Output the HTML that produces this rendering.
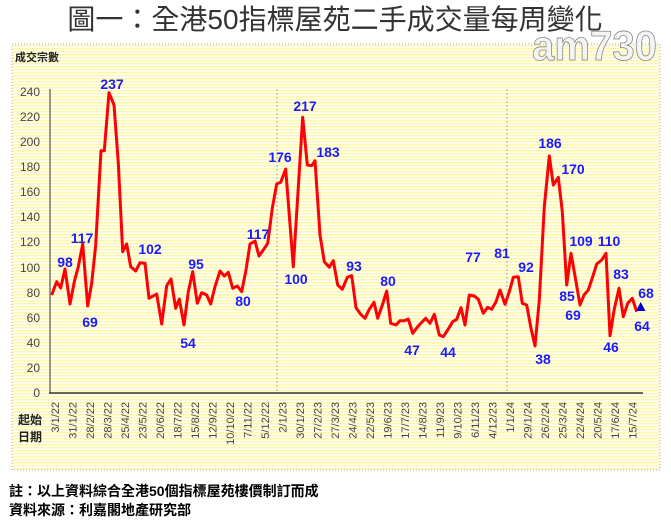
<!DOCTYPE html>
<html><head><meta charset="utf-8"><style>
body{margin:0;width:671px;height:520px;background:#fff;overflow:hidden;font-family:"Liberation Sans","Noto Sans CJK TC",sans-serif}
</style></head><body>
<svg width="671" height="520" xmlns="http://www.w3.org/2000/svg" style="position:absolute;left:0;top:0">
<defs>
<pattern id="st" width="4" height="3" patternUnits="userSpaceOnUse"><rect width="4" height="3" fill="#ffffff"/><rect width="4" height="1.5" fill="#fdf7a8"/></pattern>
</defs>
<text x="335" y="29" text-anchor="middle" font-size="28" fill="#333" font-family="'Liberation Sans','Noto Sans CJK TC',sans-serif">圖一：全港50指標屋苑二手成交量每周變化</text>
<rect x="12" y="44" width="648" height="426" fill="url(#st)" stroke="#aaa" stroke-dasharray="1,2"/>
<text x="532" y="60" font-size="42" font-weight="bold" fill="#f4f4f4" stroke="#888" stroke-width="0.8" textLength="125" lengthAdjust="spacingAndGlyphs">am730</text>
<text x="15" y="61" font-size="11" font-weight="bold" fill="#222" font-family="'Liberation Sans','Noto Sans CJK TC',sans-serif">成交宗數</text>
<line x1="277" y1="89" x2="277" y2="392" stroke="#aaa" stroke-dasharray="2,2"/>
<line x1="507" y1="89" x2="507" y2="392" stroke="#aaa" stroke-dasharray="2,2"/>
<line x1="50" y1="89" x2="50" y2="393" stroke="#555" stroke-width="1.2"/>
<line x1="49" y1="393" x2="643" y2="393" stroke="#333" stroke-width="1.5"/>
<g font-size="12" fill="#444" text-anchor="end">
<text x="40" y="96">240</text><text x="40" y="121">220</text><text x="40" y="146">200</text><text x="40" y="171">180</text><text x="40" y="196">160</text><text x="40" y="221">140</text><text x="40" y="246">120</text><text x="40" y="272">100</text><text x="40" y="297">80</text><text x="40" y="322">60</text><text x="40" y="347">40</text><text x="40" y="372">20</text><text x="40" y="397">0</text>
</g>
<g font-size="11" fill="#444" text-anchor="end">
<text transform="translate(59,402) rotate(-90)">3/1/22</text>
<text transform="translate(76.5,402) rotate(-90)">31/1/22</text>
<text transform="translate(94,402) rotate(-90)">28/2/22</text>
<text transform="translate(111.5,402) rotate(-90)">28/3/22</text>
<text transform="translate(129,402) rotate(-90)">25/4/22</text>
<text transform="translate(146.5,402) rotate(-90)">23/5/22</text>
<text transform="translate(164,402) rotate(-90)">20/6/22</text>
<text transform="translate(181.5,402) rotate(-90)">18/7/22</text>
<text transform="translate(199,402) rotate(-90)">15/8/22</text>
<text transform="translate(216.5,402) rotate(-90)">12/9/22</text>
<text transform="translate(234,402) rotate(-90)">10/10/22</text>
<text transform="translate(251.5,402) rotate(-90)">7/11/22</text>
<text transform="translate(269,402) rotate(-90)">5/12/22</text>
<text transform="translate(286.5,402) rotate(-90)">2/1/23</text>
<text transform="translate(304,402) rotate(-90)">30/1/23</text>
<text transform="translate(321.5,402) rotate(-90)">27/2/23</text>
<text transform="translate(339,402) rotate(-90)">27/3/23</text>
<text transform="translate(356.5,402) rotate(-90)">24/4/23</text>
<text transform="translate(374,402) rotate(-90)">22/5/23</text>
<text transform="translate(391.5,402) rotate(-90)">19/6/23</text>
<text transform="translate(409,402) rotate(-90)">17/7/23</text>
<text transform="translate(426.5,402) rotate(-90)">14/8/23</text>
<text transform="translate(444,402) rotate(-90)">11/9/23</text>
<text transform="translate(461.5,402) rotate(-90)">9/10/23</text>
<text transform="translate(479,402) rotate(-90)">6/11/23</text>
<text transform="translate(496.5,402) rotate(-90)">4/12/23</text>
<text transform="translate(514,402) rotate(-90)">1/1/24</text>
<text transform="translate(531.5,402) rotate(-90)">29/1/24</text>
<text transform="translate(549,402) rotate(-90)">26/2/24</text>
<text transform="translate(566.5,402) rotate(-90)">25/3/24</text>
<text transform="translate(584,402) rotate(-90)">22/4/24</text>
<text transform="translate(601.5,402) rotate(-90)">20/5/24</text>
<text transform="translate(619,402) rotate(-90)">17/6/24</text>
<text transform="translate(636.5,402) rotate(-90)">15/7/24</text>
</g>
<g font-size="12" font-weight="bold" fill="#222" font-family="'Liberation Sans','Noto Sans CJK TC',sans-serif">
<text x="18" y="424">起始</text><text x="18" y="441">日期</text>
</g>
<polyline fill="none" stroke="#ff0000" stroke-width="3" stroke-linejoin="round" points="51.7,295 56.7,281.7 60.7,288 65,269 70,304 74.3,281.7 78.3,266.7 82.7,244 87.7,306 91.7,283 95.7,245 101,150.7 104.3,150.7 109,92.7 114,105 118.3,163 122.7,251.7 126.7,244 130.7,266.7 135.7,271 140,262.7 145,263.3 149,298.3 156.7,294 161.7,324 166.7,285.7 171,279 175.7,308.3 179.3,299 184,325 188.3,291.7 192.7,271.7 197.3,303.3 201.7,292.7 206.7,295 210.7,304 215,286.7 220,271 224.3,276 228.3,272.3 232.7,288.3 237.3,286 241.7,291.7 246,270 250,244 255,241 259,256 263.3,250 267.7,243.3 272.3,208.3 276.7,184 280.7,182.3 285.7,169 293.3,266.7 302.7,117.3 307.3,165 311.7,165.7 315,160.7 320,235 324.3,261.7 329.3,267.3 333.3,260.7 337.7,285 342.3,289.3 347.3,277.3 351.7,275.7 356,307.7 360.7,314.3 365,318.3 369.3,309.3 374,302.3 377.7,318.3 382.7,304 386.7,291 390.7,323.3 396,325 400,320.7 404.3,320.7 408.3,319 412.7,333.3 417.7,326.7 421.7,322.3 425.7,318.3 430,323.3 434.3,314.3 439.3,335 443.3,336.7 448.3,329 452.7,321.7 456.7,319.3 461,307.7 465,325 469.3,295 474.3,296 478.3,299.3 483.3,313.3 487.7,307.3 491.7,309.3 496,301.7 500,290 505,304.3 509.3,291.7 513.3,277.3 518.3,276.7 522.3,303.3 526.7,305 531,328.3 535,346 539.3,300 544.3,206.7 549.3,156 553.3,185 558.3,177.3 562.3,211.7 566.7,285 571,253.3 575.7,280 580,305 584,295 588.3,290 592.7,276.7 596.7,264 601.7,260 606,253.3 610,335.7 614.3,309 619,288.3 623.3,316.7 627.7,303.3 632.3,298.3 636.7,311.7"/>
<polygon points="640.7,302 645.5,311 636,311" fill="#0000cc"/>
<g font-size="14" font-weight="bold" fill="#1a1aff" text-anchor="middle">
<text x="65" y="267">98</text><text x="82" y="243">117</text><text x="90" y="327">69</text><text x="112" y="89">237</text>
<text x="150" y="254">102</text><text x="196" y="269">95</text><text x="188" y="348">54</text><text x="243" y="306">80</text>
<text x="258" y="239">117</text><text x="280" y="162">176</text><text x="296" y="284">100</text><text x="305" y="111">217</text>
<text x="328" y="157">183</text><text x="354" y="271">93</text><text x="388" y="286">80</text><text x="412" y="355">47</text>
<text x="448" y="357">44</text><text x="473" y="262">77</text><text x="502" y="258">81</text><text x="526" y="272">92</text>
<text x="543" y="364">38</text><text x="550" y="148">186</text><text x="573" y="174">170</text><text x="567" y="301">85</text>
<text x="581" y="246">109</text><text x="573" y="320">69</text><text x="609" y="246">110</text><text x="621" y="279">83</text>
<text x="611" y="352">46</text><text x="646" y="298">68</text><text x="642" y="331">64</text>
</g>
<g font-size="14" font-weight="bold" fill="#000" font-family="'Liberation Sans','Noto Sans CJK TC',sans-serif">
<text x="9" y="496">註：以上資料綜合全港50個指標屋苑樓價制訂而成</text>
<text x="9" y="515">資料來源：利嘉閣地產研究部</text>
</g>
</svg>
</body></html>
